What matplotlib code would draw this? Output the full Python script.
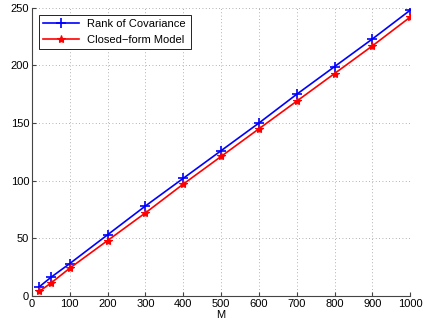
import matplotlib
matplotlib.use("Agg")
import matplotlib.pyplot as plt

M = [20, 50, 100, 200, 300, 400, 500, 600, 700, 800, 900, 1000]
rank_cov = [8, 16, 28, 53, 78, 102, 126, 150, 175, 199, 223, 248]
closed_form = [4, 11, 24, 48, 72, 97, 121, 145, 169, 193, 217, 242]

plt.rcParams['font.family'] = ['Liberation Sans', 'DejaVu Sans']
plt.rcParams['font.size'] = 8

fig = plt.figure(figsize=(4.43, 3.28), dpi=100)
ax = fig.add_axes([0.072, 0.098, 0.854, 0.878])

ax.plot(M, rank_cov, color='blue', marker='+', markersize=7, markeredgewidth=1.2,
        linewidth=1.2, label='Rank of Covariance')
ax.plot(M, closed_form, color='red', marker='*', markersize=6, markeredgewidth=0.8,
        linewidth=1.2, label='Closed\u2212form Model')

ax.set_xlim(0, 1000)
ax.set_ylim(0, 250)
ax.set_xticks([0, 100, 200, 300, 400, 500, 600, 700, 800, 900, 1000])
ax.set_yticks([0, 50, 100, 150, 200, 250])
ax.set_xlabel('M', labelpad=1)
ax.grid(True, linestyle=(0, (1, 3)), color='#999999', linewidth=0.6)
ax.tick_params(direction='in', length=3, pad=2, color='#444444')

# box off, like the original
ax.spines['top'].set_visible(False)
ax.spines['right'].set_visible(False)
for side in ['left', 'bottom']:
    ax.spines[side].set_color('#444444')
    ax.spines[side].set_linewidth(0.8)

leg = ax.legend(loc='upper left', fancybox=False, edgecolor='black', framealpha=1,
                borderaxespad=0.6, handlelength=3.2)
leg.get_frame().set_linewidth(0.6)

fig.savefig('out.png', dpi=100)
